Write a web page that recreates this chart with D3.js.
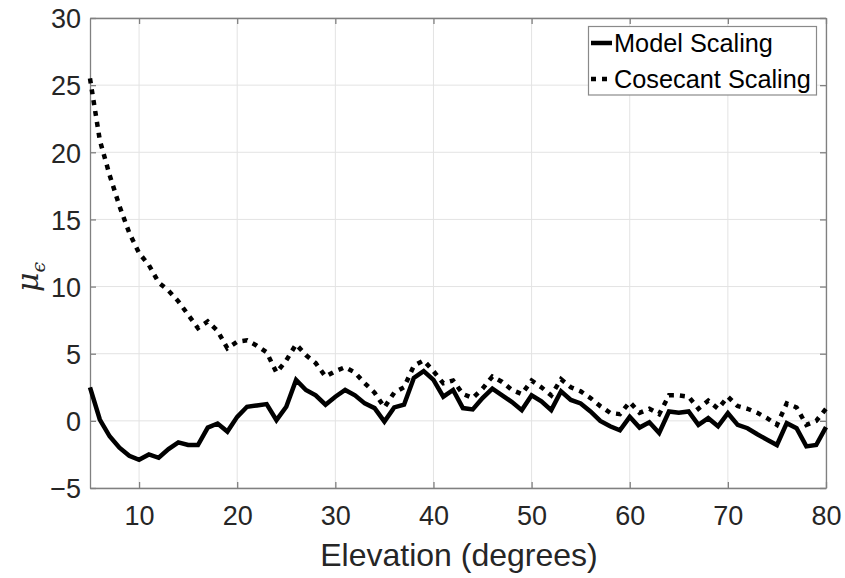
<!DOCTYPE html>
<html>
<head>
<meta charset="utf-8">
<script src="https://cdn.jsdelivr.net/npm/d3@7"></script>
<style>
  html, body { margin: 0; padding: 0; background: #fff; }
  svg { display: block; font-family: "Liberation Sans", Arial, sans-serif; }
</style>
</head>
<body>
<svg id="chart" width="845" height="578"></svg>
<script>
const elevation = d3.range(5, 81);
const modelScaling = [
  2.5, 0.1, -1.15, -2.0, -2.6, -2.9, -2.5, -2.75, -2.1, -1.6,
  -1.8, -1.8, -0.5, -0.2, -0.8, 0.3, 1.05, 1.15, 1.25, 0.05,
  1.05, 3.05, 2.3, 1.9, 1.2, 1.8, 2.3, 1.9, 1.3, 0.95,
  -0.05, 1.0, 1.2, 3.2, 3.7, 3.05, 1.8, 2.3, 0.95, 0.85,
  1.7, 2.4, 1.9, 1.4, 0.8, 1.9, 1.45, 0.8, 2.2, 1.56,
  1.3, 0.7, 0.0, -0.4, -0.7, 0.3, -0.5, -0.1, -0.9, 0.7,
  0.6, 0.7, -0.3, 0.2, -0.4, 0.57, -0.3, -0.55, -1.0, -1.4,
  -1.8, -0.17, -0.55, -1.9, -1.8, -0.47
];
const cosecantScaling = [
  25.5, 20.9, 18.3, 16.0, 14.0, 12.5, 11.6, 10.3, 9.7, 8.9,
  7.9, 6.9, 7.4, 6.7, 5.4, 5.9, 6.0, 5.6, 5.1, 3.6,
  4.5, 5.7, 4.9, 4.3, 3.3, 3.7, 4.0, 3.6, 2.8, 2.1,
  1.0, 2.1, 2.5, 4.1, 4.5, 3.7, 2.8, 3.0, 2.0, 1.7,
  2.4, 3.3, 2.9, 2.3, 2.0, 3.0, 2.5, 1.9, 3.1, 2.5,
  2.2, 1.7, 1.1, 0.6, 0.5, 1.4, 0.6, 0.9, 0.5, 1.9,
  1.9, 1.8, 0.9, 1.5, 0.9, 1.8, 1.1, 0.9, 0.6, 0.2,
  -0.3, 1.3, 1.0, -0.3, 0.0, 0.9
];
const xTicks = [10, 20, 30, 40, 50, 60, 70, 80];
const yTicks = [-5, 0, 5, 10, 15, 20, 25, 30];
const seriesNames = ["Model Scaling", "Cosecant Scaling"];

const svg = d3.select("#chart");
const L = 90, R = 826, T = 18, B = 488;
const x = d3.scaleLinear().domain([5, 80]).range([L, R]);
const y = d3.scaleLinear().domain([-5, 30]).range([B, T]);

const axisColor = "#808080";
const textColor = "#262626";

// grid
const grid = svg.append("g");
grid.selectAll("line.gx").data(xTicks).join("line")
  .attr("x1", d => x(d)).attr("x2", d => x(d)).attr("y1", T).attr("y2", B)
  .attr("stroke", "#e3e3e3").attr("stroke-width", 1);
grid.selectAll("line.gy").data(yTicks).join("line")
  .attr("x1", L).attr("x2", R).attr("y1", d => y(d)).attr("y2", d => y(d))
  .attr("stroke", "#e3e3e3").attr("stroke-width", 1);

// axes
const fs = 27;
const xAxis = svg.append("g").attr("transform", `translate(0,${B})`)
  .call(d3.axisBottom(x).tickValues(xTicks).tickSizeInner(-6).tickSizeOuter(0).tickPadding(18));
const xAxisTop = svg.append("g").attr("transform", `translate(0,${T})`)
  .call(d3.axisTop(x).tickValues(xTicks).tickSizeInner(-6).tickSizeOuter(0).tickFormat(""));
const yAxis = svg.append("g").attr("transform", `translate(${L},0)`)
  .call(d3.axisLeft(y).tickValues(yTicks).tickSizeInner(-6).tickSizeOuter(0).tickPadding(9));
const yAxisRight = svg.append("g").attr("transform", `translate(${R},0)`)
  .call(d3.axisRight(y).tickValues(yTicks).tickSizeInner(-6).tickSizeOuter(0).tickFormat(""));
[xAxis, xAxisTop, yAxis, yAxisRight].forEach(g => {
  g.select(".domain").attr("stroke", axisColor).attr("stroke-width", 1.3);
  g.selectAll(".tick line").attr("stroke", axisColor).attr("stroke-width", 1.3);
  g.selectAll(".tick text").attr("fill", textColor).attr("font-size", fs)
    .attr("font-family", "Liberation Sans, Arial, sans-serif");
});
yAxis.selectAll(".tick text").attr("dy", "0.36em");
xAxis.selectAll(".tick text").attr("dy", "0.71em");

// lines
const line = d3.line().x((d, i) => x(elevation[i])).y(d => y(d));
const plot = svg.append("g");
plot.append("path").datum(cosecantScaling).attr("d", line)
  .attr("fill", "none").attr("stroke", "#000").attr("stroke-width", 4.5)
  .attr("stroke-dasharray", "5,6").attr("stroke-linejoin", "miter");
plot.append("path").datum(modelScaling).attr("d", line)
  .attr("fill", "none").attr("stroke", "#000").attr("stroke-width", 4.5)
  .attr("stroke-linejoin", "miter");

// labels
svg.append("text").attr("x", (L + R) / 2 + 1).attr("y", 566)
  .attr("text-anchor", "middle").attr("font-size", 32).attr("fill", textColor)
  .text("Elevation (degrees)");
const yl = svg.append("text").attr("transform", `translate(38,${(T + B) / 2 + 24}) rotate(-90)`)
  .attr("text-anchor", "middle").attr("font-size", 30).attr("fill", textColor)
  .attr("font-family", "DejaVu Serif, serif").attr("font-style", "italic");
yl.append("tspan").text("μ");
yl.append("tspan").attr("font-size", 19).attr("dy", 7).text("ϵ");

// legend
const lg = svg.append("g");
lg.append("rect").attr("x", 588.5).attr("y", 26.5).attr("width", 228).attr("height", 68.5)
  .attr("fill", "#fff").attr("stroke", "#8a8a8a").attr("stroke-width", 1.2);
const legendY = [43, 79];
seriesNames.forEach((name, i) => {
  lg.append("line").attr("x1", 591).attr("x2", 612).attr("y1", legendY[i]).attr("y2", legendY[i])
    .attr("stroke", "#000").attr("stroke-width", 4.5)
    .attr("stroke-dasharray", i === 1 ? "5,6" : null);
  lg.append("text").attr("x", 614).attr("y", legendY[i] + 9)
    .attr("font-size", 25.3).attr("fill", "#000").text(name);
});
</script>
</body>
</html>
